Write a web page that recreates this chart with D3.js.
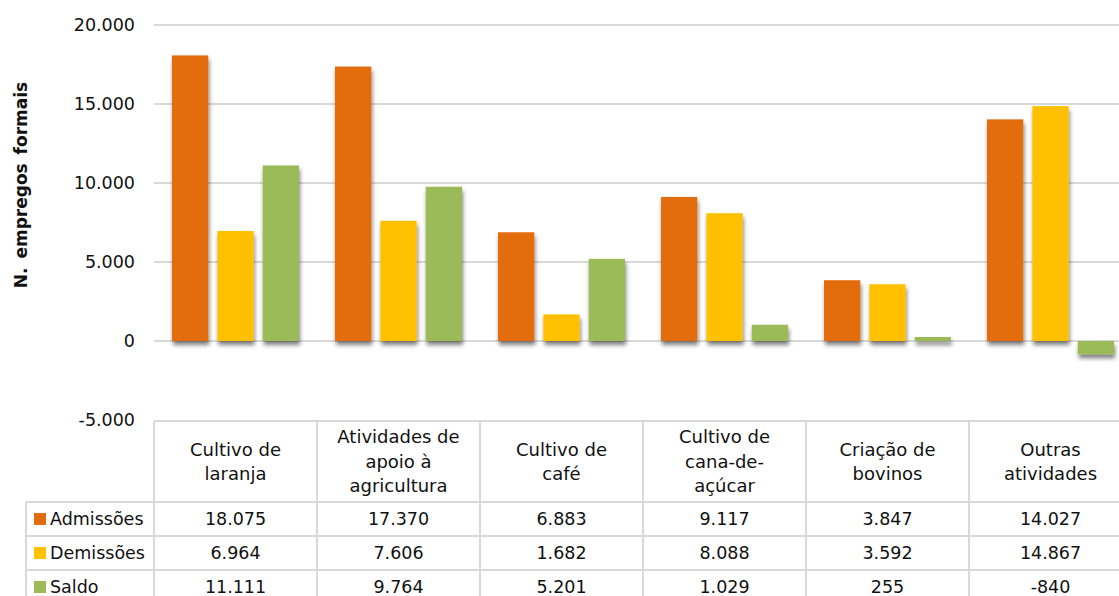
<!DOCTYPE html>
<html>
<head>
<meta charset="utf-8">
<script src="https://cdn.jsdelivr.net/npm/d3@7"></script>
<style>
  body { margin: 0; background: #fff; }
  svg { display: block; font-family: "DejaVu Sans", Verdana, sans-serif; }
</style>
</head>
<body>
<div id="chart"></div>
<script>
// data
const categories = ["laranja", "apoio", "cafe", "cana", "bovinos", "outras"];
const categoryLabels = [
  ["Cultivo de", "laranja"],
  ["Atividades de", "apoio à", "agricultura"],
  ["Cultivo de", "café"],
  ["Cultivo de", "cana-de-", "açúcar"],
  ["Criação de", "bovinos"],
  ["Outras", "atividades"]
];
const seriesNames = ["Admissões", "Demissões", "Saldo"];
const admissoes = [18075, 17370, 6883, 9117, 3847, 14027];
const demissoes = [6964, 7606, 1682, 8088, 3592, 14867];
const saldo = [11111, 9764, 5201, 1029, 255, -840];
const yTicks = [-5000, 0, 5000, 10000, 15000, 20000];
const colors = ["#E36C0A", "#FFC000", "#9BBB59"];

const seriesValues = [admissoes, demissoes, saldo];

const W = 1119, H = 596;
const svg = d3.select("#chart").append("svg")
  .attr("width", W)
  .attr("height", H);

const defs = svg.append("defs");
defs.append("filter")
  .attr("id", "shadow")
  .attr("x", "-20%").attr("y", "-10%")
  .attr("width", "150%").attr("height", "150%")
  .append("feDropShadow")
  .attr("dx", 1).attr("dy", 4)
  .attr("stdDeviation", 2.2)
  .attr("flood-color", "#000")
  .attr("flood-opacity", 0.5);

const plotLeft = 154, colW = 163;
const x = d3.scaleBand()
  .domain(categories)
  .range([plotLeft, plotLeft + colW * categories.length]);

const xInner = d3.scaleBand()
  .domain(seriesNames)
  .range([18, 145])
  .paddingInner(0.2);

const y = d3.scaleLinear()
  .domain([-5000, 20000])
  .range([420, 25]);

const fmt = d3.formatLocale({ decimal: ",", thousands: ".", grouping: [3], currency: ["", ""], minus: "-" }).format(",d");

// gridlines (the -5000 line is the table top)
svg.append("g")
  .selectAll("line")
  .data(yTicks.filter(d => d > -5000))
  .join("line")
  .attr("x1", plotLeft)
  .attr("x2", W)
  .attr("y1", d => y(d))
  .attr("y2", d => y(d))
  .attr("stroke", "#d9d9d9")
  .attr("stroke-width", 2);

// y tick labels
svg.append("g")
  .selectAll("text")
  .data(yTicks)
  .join("text")
  .attr("x", 135)
  .attr("y", d => y(d))
  .attr("dy", "0.35em")
  .attr("text-anchor", "end")
  .attr("font-size", "17.5px")
  .attr("fill", "#111")
  .text(d => fmt(d));

// y axis title
svg.append("text")
  .attr("transform", `translate(27,${y(10000) + 2}) rotate(-90)`)
  .attr("text-anchor", "middle")
  .attr("font-size", "17px")
  .attr("font-weight", "bold")
  .attr("fill", "#111")
  .attr("word-spacing", "3px")
  .text("N. empregos formais");

// bars
const rows = [];
categories.forEach((c, i) => {
  seriesNames.forEach((s, j) => {
    rows.push({ cat: c, series: s, value: seriesValues[j][i], color: colors[j] });
  });
});

svg.append("g")
  .attr("filter", "url(#shadow)")
  .selectAll("rect")
  .data(rows)
  .join("rect")
  .attr("x", d => x(d.cat) + xInner(d.series))
  .attr("width", xInner.bandwidth())
  .attr("y", d => y(Math.max(0, d.value)))
  .attr("height", d => Math.max(2, Math.abs(y(d.value) - y(0))))
  .attr("fill", d => d.color);

// data table
const tableTop = y(-5000) + 1;
const headerH = 81, rowH = 34;
const legendLeft = 26;
const table = svg.append("g");
const gridColor = "#d9d9d9";

// horizontal lines
table.append("line")
  .attr("x1", plotLeft).attr("x2", W)
  .attr("y1", tableTop).attr("y2", tableTop)
  .attr("stroke", gridColor).attr("stroke-width", 2);
seriesNames.forEach((s, j) => {
  const yy = tableTop + headerH + j * rowH;
  table.append("line")
    .attr("x1", legendLeft).attr("x2", W)
    .attr("y1", yy).attr("y2", yy)
    .attr("stroke", gridColor).attr("stroke-width", 2);
});

// vertical lines
table.append("line")
  .attr("x1", legendLeft).attr("x2", legendLeft)
  .attr("y1", tableTop + headerH).attr("y2", H)
  .attr("stroke", gridColor).attr("stroke-width", 2);
categories.forEach(c => {
  table.append("line")
    .attr("x1", x(c)).attr("x2", x(c))
    .attr("y1", tableTop).attr("y2", H)
    .attr("stroke", gridColor).attr("stroke-width", 2);
});

// header labels
const lineH = 24.5;
categories.forEach((c, i) => {
  const lines = categoryLabels[i];
  const cy = tableTop + headerH / 2;
  const t = table.append("text")
    .attr("text-anchor", "middle")
    .attr("font-size", "18px")
    .attr("fill", "#111");
  lines.forEach((ln, k) => {
    t.append("tspan")
      .attr("x", x(c) + colW / 2)
      .attr("y", cy + (k - (lines.length - 1) / 2) * lineH)
      .attr("dy", "0.35em")
      .text(ln);
  });
});

// rows: legend + values
seriesNames.forEach((s, j) => {
  const cy = tableTop + headerH + j * rowH + rowH / 2;
  table.append("rect")
    .attr("x", 34).attr("y", cy - 6)
    .attr("width", 12).attr("height", 12)
    .attr("fill", colors[j]);
  table.append("text")
    .attr("x", 50).attr("y", cy)
    .attr("dy", "0.35em")
    .attr("font-size", "17.5px")
    .attr("fill", "#111")
    .text(s);
  categories.forEach((c, i) => {
    table.append("text")
      .attr("x", x(c) + colW / 2).attr("y", cy)
      .attr("dy", "0.35em")
      .attr("text-anchor", "middle")
      .attr("font-size", "17.5px")
      .attr("fill", "#111")
      .text(fmt(seriesValues[j][i]));
  });
});
</script>
</body>
</html>
